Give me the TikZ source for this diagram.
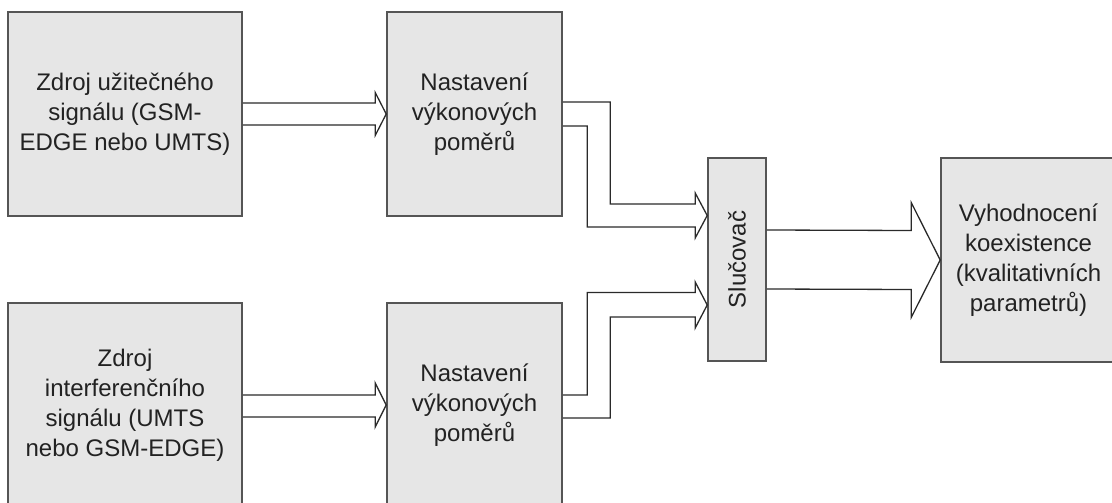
\documentclass[tikz,border=0pt]{standalone}
\usepackage{fontspec}
\setmainfont{Liberation Sans}
\usepackage{tikz}
\usetikzlibrary{arrows}
\definecolor{boxfill}{HTML}{E6E6E6}
\definecolor{boxline}{HTML}{555555}
\definecolor{linecol}{HTML}{2A2A2A}
\definecolor{txtcol}{HTML}{222222}

\begin{document}
\begin{tikzpicture}[x=1pt, y=-1pt,
  block/.style={shape=rectangle, draw=boxline, fill=boxfill, line width=1.6pt, inner sep=0pt,
    minimum height=204pt, align=center, text=txtcol, font=\fontsize{24}{30}\selectfont},
  wide/.style={draw=linecol, line width=1.3pt, line join=miter}]
\useasboundingbox (0,0) rectangle (1112,503);
\clip (0,0) rectangle (1112,503);

\node [block, minimum width=234pt] (Z1) at (125,114) {Zdroj užitečného\\signálu (GSM-\\EDGE nebo UMTS)};
\node [block, minimum width=234pt] (Z2) at (125,405) {Zdroj\\interferenčního\\signálu (UMTS\\nebo GSM-EDGE)};
\node [block, minimum width=175pt] (N1) at (474.5,114) {Nastavení\\výkonových\\poměrů};
\node [block, minimum width=175pt] (N2) at (474.5,405) {Nastavení\\výkonových\\poměrů};
\node [block, minimum width=58pt, minimum height=203pt] (S) at (737,259.5) {\rotatebox{90}{Slučovač}};
\node [block, minimum width=175pt] (V) at (1028.5,260) {Vyhodnocení\\koexistence\\(kvalitativních\\parametrů)};

\coordinate (S1) at ([yshift=44pt]S.west);
\coordinate (S2) at ([yshift=-45.5pt]S.west);

% sources to power setting
\draw [wide] ([yshift=11pt]Z1.east) -- ([xshift=-11pt,yshift=11pt]N1.west) -- ([xshift=-11pt,yshift=21.5pt]N1.west)
  -- (N1.west) -- ([xshift=-11pt,yshift=-21.5pt]N1.west) -- ([xshift=-11pt,yshift=-11pt]N1.west) -- ([yshift=-11pt]Z1.east);
\draw [wide] ([yshift=10pt]Z2.east) -- ([xshift=-11pt,yshift=10pt]N2.west) -- ([xshift=-11pt,yshift=22pt]N2.west)
  -- (N2.west) -- ([xshift=-11pt,yshift=-22pt]N2.west) -- ([xshift=-11pt,yshift=-12pt]N2.west) -- ([yshift=-12pt]Z2.east);

% power setting to combiner
\draw [wide] ([yshift=12pt]N1.east) -| ([xshift=-97pt,yshift=11.5pt]S1) -- ([xshift=-12pt,yshift=11.5pt]S1)
  -- ([xshift=-12pt,yshift=22.5pt]S1) -- (S1) -- ([xshift=-12pt,yshift=-22.5pt]S1) -- ([xshift=-12pt,yshift=-11.5pt]S1)
  -- ([xshift=-120pt,yshift=-11.5pt]S1) |- ([yshift=-12pt]N1.east);
\draw [wide] ([yshift=10pt]N2.east) -| ([xshift=-120pt,yshift=12.5pt]S2) -- ([xshift=-12pt,yshift=12.5pt]S2)
  -- ([xshift=-12pt,yshift=23pt]S2) -- (S2) -- ([xshift=-12pt,yshift=-23pt]S2) -- ([xshift=-12pt,yshift=-12pt]S2)
  -- ([xshift=-97pt,yshift=-12pt]S2) |- ([yshift=-13pt]N2.east);

% combiner to evaluation
\draw [wide] ([yshift=29.5pt]S.east) -- ([xshift=-29pt,yshift=29.5pt]V.west) -- ([xshift=-29pt,yshift=57.5pt]V.west)
  -- (V.west) -- ([xshift=-29pt,yshift=-57.5pt]V.west) -- ([xshift=-29pt,yshift=-29.5pt]V.west) -- ([yshift=-29.5pt]S.east);
\end{tikzpicture}
\end{document}
